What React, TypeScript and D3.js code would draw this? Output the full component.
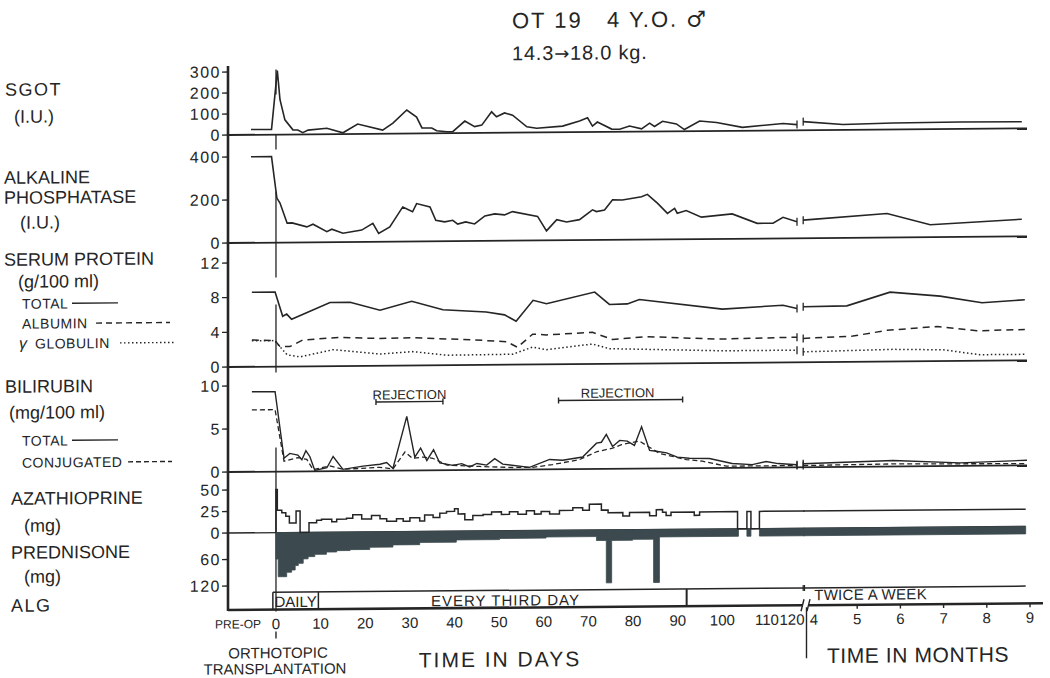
import React from 'react';
import * as d3 from 'd3';

type Pt = [number, number];

const INK = '#252525';
const SHADE = '#3c4a4f';
const FONT = '"Liberation Sans", Arial, Helvetica, sans-serif';

// ---- data: [day, value] (negative day = pre-op), [month, value] after the break
const sgotDays: Pt[] = [[-5.6, 25], [-1.0, 25], [0.3, 305], [0.9, 166], [2.0, 70], [3.8, 22], [4.9, 21], [6.0, 8], [7.2, 20], [11.4, 28], [15.0, 6], [18.3, 47], [23.9, 17], [26.2, 50], [29.3, 112], [31.5, 78], [32.7, 26], [34.9, 25], [36.0, 12], [38.3, 7], [39.6, 7], [42.3, 57], [44.5, 30], [46.1, 37], [48.3, 100], [49.4, 76], [51.2, 94], [53.0, 83], [56.2, 27], [58.4, 20], [64.2, 29], [68.0, 53], [69.8, 68], [70.9, 28], [72.0, 47], [75.2, 13], [77.0, 12], [79.2, 27], [81.9, 13], [83.7, 40], [84.8, 24], [86.6, 48], [89.7, 35], [91.5, 8], [94.9, 48], [98.7, 40], [104.5, 16], [116.4, 33], [122, 27]];
const sgotMonths: Pt[] = [[3.75, 41], [4.67, 26], [5.83, 31], [7.38, 33], [8.81, 32]];

const alkDays: Pt[] = [[-5.6, 400], [-1.0, 400], [0.2, 207], [0.9, 184], [2.5, 90], [3.6, 91], [6.9, 72], [8.3, 84], [11.4, 49], [12.5, 60], [15.0, 41], [19.2, 55], [21.7, 86], [23.0, 39], [25.5, 69], [28.4, 161], [30.6, 138], [31.5, 176], [34.5, 160], [35.8, 98], [37.8, 90], [39.6, 97], [40.7, 79], [42.5, 89], [44.5, 79], [46.8, 116], [49.0, 125], [51.2, 120], [53.0, 135], [58.6, 112], [60.6, 44], [62.9, 96], [65.1, 85], [68.0, 95], [70.9, 140], [71.8, 132], [73.6, 139], [75.4, 186], [77.6, 185], [81.9, 199], [83.2, 210], [85.5, 168], [87.7, 121], [89.3, 144], [89.9, 121], [91.9, 133], [95.3, 102], [102.2, 116], [107.8, 71], [112.4, 71], [116.4, 98], [122, 77]];
const alkMonths: Pt[] = [[3.75, 84], [5.69, 112], [6.69, 58], [8.81, 80]];

const totalProtDays: Pt[] = [[-5.4, 8.6], [-0.2, 8.6], [1.5, 5.8], [2.4, 6.05], [3.5, 5.45], [12.1, 7.35], [16.6, 7.35], [23.3, 6.4], [30.4, 7.4], [37.4, 6.4], [47.1, 6.1], [51.2, 5.75], [53.8, 5.0], [57.6, 7.4], [60.6, 7.0], [71.4, 8.3], [74.7, 6.85], [78.7, 6.9], [81.4, 7.4], [100, 6.2], [116.4, 6.6], [122, 6.2]];
const totalProtMonths: Pt[] = [[3.75, 6.4], [4.76, 6.46], [5.76, 8.0], [6.92, 7.5], [7.89, 6.7], [8.88, 7.0]];

const albuminDays: Pt[] = [[-5.4, 3.1], [-0.2, 3.0], [0.9, 2.3], [3.1, 2.3], [6.0, 3.05], [14.3, 3.3], [23.3, 3.15], [30.6, 3.2], [44.1, 2.9], [51.7, 2.65], [54.1, 2.0], [57.5, 3.5], [60.6, 3.4], [70.9, 3.65], [75.4, 2.8], [83, 3.1], [99.3, 2.75], [122, 2.9]];
const albuminMonths: Pt[] = [[3.75, 2.75], [4.9, 2.97], [5.69, 3.6], [6.85, 4.0], [7.77, 3.46], [8.88, 3.57]];

const globulinDays: Pt[] = [[-5.4, 3.0], [-0.2, 3.0], [0.2, 2.7], [2.5, 1.35], [5.4, 1.1], [12.8, 1.9], [23.3, 1.35], [30.6, 1.6], [38.3, 1.15], [53, 1.2], [57.5, 2.0], [60.6, 1.7], [70.9, 2.3], [74.7, 1.75], [100, 1.4], [122, 1.4]];
const globulinMonths: Pt[] = [[3.75, 1.2], [5.83, 1.4], [6.99, 1.3], [7.84, 0.7], [8.88, 0.7]];

const biliTotalDays: Pt[] = [[-5.4, 9.3], [-0.2, 9.3], [1.8, 1.55], [3.1, 2.1], [4.9, 1.9], [5.8, 1.35], [6.7, 2.4], [7.6, 1.7], [8.7, 0.1], [11.4, 0.4], [12.8, 1.7], [15.0, 0.2], [19.5, 0.55], [23.3, 0.75], [24.8, 0.95], [26.2, 0.25], [29.3, 6.3], [31.1, 1.55], [32.4, 2.6], [33.8, 1.15], [35.3, 2.4], [36.7, 0.85], [39.6, 0.55], [41.6, 0.75], [43.4, 0.35], [45.0, 0.75], [47.2, 0.55], [49.0, 1.3], [50.8, 0.65], [56.8, 0.25], [61.3, 1.15], [64.2, 1.05], [68.7, 1.4], [71.8, 3.0], [72.9, 3.1], [74.0, 4.0], [75.4, 2.6], [77.0, 3.3], [78.7, 3.2], [80.3, 2.7], [81.9, 4.85], [83.7, 2.1], [85.2, 2.0], [87.5, 1.8], [89.9, 1.3], [92.6, 1.15], [97.1, 1.1], [102.2, 0.5], [106.7, 0.35], [109.8, 0.7], [114.4, 0.45], [122, 0.3]];
const biliTotalMonths: Pt[] = [[3.75, 0.4], [5.83, 0.7], [7.38, 0.35], [8.93, 0.6]];

const biliConjDays: Pt[] = [[-5.4, 7.2], [-0.2, 7.2], [1.8, 1.2], [4.9, 1.6], [6.9, 1.4], [8.3, 0.2], [12.1, 0.6], [15.0, 0.2], [23.3, 0.4], [26.2, 0.2], [28.9, 2.15], [30.6, 1.4], [32.9, 1.55], [35.1, 1.4], [38.3, 0.6], [45.6, 0.4], [53.0, 0.25], [57.5, 0.25], [62.0, 0.55], [68.0, 1.1], [71.8, 2.0], [75.4, 2.4], [77.4, 2.8], [81.4, 3.2], [85.9, 1.75], [91.9, 1.0], [95.5, 0.8], [100.9, 0.2], [106.7, 0.2], [122, 0.2]];
const biliConjMonths: Pt[] = [[3.75, 0.2], [5.83, 0.3], [8.93, 0.2]];

// daily doses, step series: [start day, mg]
const azaDays: Pt[] = [[0, 0], [0, 50], [0.3, 26], [1.3, 23], [2.2, 19], [3.0, 11], [4.5, 25], [5.4, 0], [7.4, 11], [9.1, 14], [10.2, 15], [12.5, 12], [13.6, 15], [15.8, 16], [17.2, 20], [19.2, 15], [21.4, 19], [23.3, 15], [24.8, 12], [27, 15], [28.5, 12], [30, 16], [32.2, 12], [33.3, 19], [35.2, 16], [36.7, 21], [38.2, 23], [40, 26], [40.8, 20], [42.3, 13], [44.1, 18], [46.4, 19], [48.3, 22], [50.5, 19], [52.3, 22], [54.2, 19], [56.1, 23], [57.9, 19], [59.4, 22], [61.3, 19], [63.5, 23], [66.5, 26], [68.7, 23], [70.2, 30], [72.9, 23], [74.4, 20], [77.7, 16], [79.2, 20], [83.7, 16], [85.2, 23], [86.6, 20], [87.4, 16], [88.5, 20], [93.7, 16], [94.9, 20], [103.4, 0], [105.5, 20], [106.4, 0], [108.3, 20], [125, 20]];
const azaMonths: Pt[] = [[3.75, 20], [8.9, 20]];

const predDays: Pt[] = [[0, 60], [0.5, 100], [2.4, 90], [3.5, 85], [4.3, 75], [5.0, 70], [6.1, 60], [7.2, 55], [8.7, 50], [11.3, 45], [13.6, 42], [16.6, 40], [21.0, 35], [26.2, 30], [32.2, 25], [40.4, 20], [50.1, 17.5], [60.5, 15], [71.8, 24], [74.0, 120], [75.2, 24], [79.9, 22], [84.6, 120], [85.9, 17], [103.6, 0], [105.5, 17], [106.4, 0], [108.3, 17], [125, 17]];
const predMonths: Pt[] = [[3.75, 17], [8.9, 17]];

const rejectionPeriods: [number, number][] = [[22.4, 37.4], [63.3, 91.1]];
const algDaily: [number, number] = [-0.7, 9.5];
const algEveryThirdDay: [number, number] = [9.5, 92];
const algDaysEnd = 125;
const algTwiceAWeek: [number, number] = [3.75, 8.9];

const sgotTicks = [0, 100, 200, 300];
const alkTicks = [0, 200, 400];
const protTicks = [0, 4, 8, 12];
const biliTicks = [0, 5, 10];
const azaTicks = [0, 25, 50];
const predTicks = [60, 120];
const dayTicks = [0, 10, 20, 30, 40, 50, 60, 70, 80, 90, 100, 110, 120];
const monthTicks = [4, 5, 6, 7, 8, 9];

// ---- scales
const xDay = d3.scaleLinear().domain([-6, 110, 125]).range([249.2, 767, 804.5]);
const xMonth = d3.scaleLinear().domain([4, 9]).range([814, 1030]);
const ySgot = d3.scaleLinear().domain([0, 300]).range([135, 72]);
const yAlk = d3.scaleLinear().domain([0, 400]).range([243, 157]);
const yProt = d3.scaleLinear().domain([0, 12]).range([367, 263]);
const yBili = d3.scaleLinear().domain([0, 10]).range([472, 386]);
const yAza = d3.scaleLinear().domain([0, 50]).range([533, 490]);
const yPred = d3.scaleLinear().domain([0, 120]).range([533, 586]);

const AXIS_X = 228;
const AXIS_Y = 610;
const ALG_TOP = 592.7;
const RIGHT = 1027;
const BREAK_L = 803;
const BREAK_R = 809;

function Series({ days, months, y, dash, w = 1.6 }: { days: Pt[]; months: Pt[]; y: d3.ScaleLinear<number, number>; dash?: string; w?: number }) {
  const lineD = d3.line<Pt>().x(d => xDay(d[0])).y(d => y(d[1]));
  const lineM = d3.line<Pt>().x(d => xMonth(d[0])).y(d => y(d[1]));
  const a = days[days.length - 1];
  const b = months[0];
  const xa = xDay(a[0]), ya = y(a[1]);
  const xb = xMonth(b[0]), yb = y(b[1]);
  return (
    <g fill="none" stroke={INK} strokeWidth={w}>
      <path d={lineD(days) || ''} strokeDasharray={dash} />
      <path d={lineM(months) || ''} strokeDasharray={dash} />
      <line x1={xa} x2={xa} y1={ya - 4} y2={ya + 4} strokeWidth={1.3} />
      <line x1={xb} x2={xb} y1={yb - 4} y2={yb + 4} strokeWidth={1.3} />
    </g>
  );
}

function YTicks({ ticks, y }: { ticks: number[]; y: d3.ScaleLinear<number, number> }) {
  return (
    <g>
      {ticks.map(t => (
        <g key={t}>
          <line x1={AXIS_X - 6} x2={AXIS_X} y1={y(t)} y2={y(t)} stroke={INK} strokeWidth={1.3} />
          <text x={AXIS_X - 7} y={y(t) + 5.5} textAnchor="end" fontSize={16} letterSpacing={1.5}>{t}</text>
        </g>
      ))}
    </g>
  );
}

function Baseline({ y }: { y: number }) {
  return <line x1={AXIS_X} x2={RIGHT} y1={y} y2={y} stroke={INK} strokeWidth={1.8} />;
}

export default function App() {
  const azaLineD = d3.line<Pt>().x(d => xDay(d[0])).y(d => yAza(d[1])).curve(d3.curveStepAfter);
  const azaLineM = d3.line<Pt>().x(d => xMonth(d[0])).y(d => yAza(d[1])).curve(d3.curveStepAfter);
  const predAreaD = d3.area<Pt>().x(d => xDay(d[0])).y0(yPred(0)).y1(d => yPred(d[1])).curve(d3.curveStepAfter);
  const predAreaM = d3.area<Pt>().x(d => xMonth(d[0])).y0(yPred(0)).y1(d => yPred(d[1])).curve(d3.curveStepAfter);
  const rejY = yBili(8);
  const x0 = xDay(0);

  const subLabel = { fontSize: 14, letterSpacing: 0.5 } as const;

  return (
    <svg width={1050} height={678} style={{ position: 'absolute', left: 0, top: 0, background: '#fff' }}
      fontFamily={FONT} fill={INK}>
      {/* the original is a slightly tilted scan */}
      <g transform={`translate(${AXIS_X},0) skewY(-0.475) translate(${-AXIS_X},0)`}>
        {/* title */}
        <text x={512} y={30.5} fontSize={22} letterSpacing={2} style={{ whiteSpace: 'pre' }}>
          OT 19   4 Y.O. <tspan fontFamily='"DejaVu Sans", sans-serif' fontSize={22}>♂</tspan>
        </text>
        <text x={512} y={62.5} fontSize={20} letterSpacing={0.8}>
          14.3<tspan fontFamily='"DejaVu Sans", sans-serif' fontSize={18}>→</tspan>18.0 kg.
        </text>

        {/* left labels */}
        <g fontSize={18}>
          <text x={5} y={94} letterSpacing={1.5}>SGOT</text>
          <text x={14} y={121}>(I.U.)</text>
          <text x={4} y={182}>ALKALINE</text>
          <text x={4} y={202}>PHOSPHATASE</text>
          <text x={20} y={227}>(I.U.)</text>
          <text x={4} y={264}>SERUM PROTEIN</text>
          <text x={18} y={286}>(g/100 ml)</text>
          <text x={5} y={391}>BILIRUBIN</text>
          <text x={9} y={417}>(mg/100 ml)</text>
          <text x={11} y={503}>AZATHIOPRINE</text>
          <text x={24} y={530}>(mg)</text>
          <text x={11} y={557}>PREDNISONE</text>
          <text x={24} y={581}>(mg)</text>
          <text x={11} y={610} letterSpacing={1.5}>ALG</text>
        </g>
        <g {...subLabel}>
          <text x={22} y={307}>TOTAL</text>
          <text x={22} y={327}>ALBUMIN</text>
          <text x={19} y={347} fontSize={16} fontStyle="italic">γ</text>
          <text x={35} y={347}>GLOBULIN</text>
          <text x={22} y={444}>TOTAL</text>
          <text x={22} y={466}>CONJUGATED</text>
        </g>
        <g stroke={INK} strokeWidth={1.4}>
          <line x1={72} x2={118} y1={302} y2={302} />
          <line x1={96} x2={170} y1={322} y2={322} strokeDasharray="6 4" />
          <line x1={120} x2={175} y1={342} y2={342} strokeDasharray="1.5 2.5" />
          <line x1={72} x2={118} y1={439} y2={439} />
          <line x1={128} x2={172} y1={461} y2={461} strokeDasharray="5 3" />
        </g>

        {/* axes and panel baselines */}
        <line x1={AXIS_X} x2={AXIS_X} y1={66} y2={AXIS_Y + 1} stroke={INK} strokeWidth={2.6} />
        <Baseline y={ySgot(0)} />
        <Baseline y={yAlk(0)} />
        <Baseline y={yProt(0)} />
        <Baseline y={yBili(0)} />
        <line x1={AXIS_X} x2={xMonth(8.9)} y1={yAza(0)} y2={yAza(0)} stroke={INK} strokeWidth={1.3} />
        <YTicks ticks={sgotTicks} y={ySgot} />
        <YTicks ticks={alkTicks} y={yAlk} />
        <YTicks ticks={protTicks} y={yProt} />
        <YTicks ticks={biliTicks} y={yBili} />
        <YTicks ticks={azaTicks} y={yAza} />
        <YTicks ticks={predTicks} y={yPred} />

        {/* x axis with break */}
        <g stroke={INK} strokeWidth={2.6}>
          <line x1={AXIS_X} x2={BREAK_L} y1={AXIS_Y} y2={AXIS_Y} />
          <line x1={BREAK_R} x2={1043} y1={AXIS_Y} y2={AXIS_Y} />
        </g>
        <g stroke={INK} strokeWidth={1.4}>
          <line x1={BREAK_L - 2} x2={BREAK_L + 1} y1={AXIS_Y + 6} y2={AXIS_Y - 6} />
          <line x1={BREAK_R - 2} x2={BREAK_R + 1} y1={AXIS_Y + 6} y2={AXIS_Y - 6} />
          <line x1={(BREAK_L + BREAK_R) / 2 + 0.5} x2={(BREAK_L + BREAK_R) / 2 + 0.5} y1={AXIS_Y + 2} y2={663} />
          {monthTicks.slice(1).map(m => (
            <line key={m} x1={xMonth(m)} x2={xMonth(m)} y1={AXIS_Y} y2={AXIS_Y + 4} />
          ))}
          <line x1={x0} x2={x0} y1={632} y2={639} />
        </g>
        <g fontSize={15} textAnchor="middle">
          {dayTicks.map(d => (
            <text key={d} x={xDay(d)} y={629.5}>{d}</text>
          ))}
          {monthTicks.map(m => (
            <text key={m} x={xMonth(m)} y={629.5}>{m}</text>
          ))}
          <text x={238} y={628.5} fontSize={12}>PRE-OP</text>
          <text x={278} y={658.5}>ORTHOTOPIC</text>
          <text x={275} y={674.5}>TRANSPLANTATION</text>
          <text x={500} y={669} fontSize={21} letterSpacing={2}>TIME IN DAYS</text>
          <text x={918} y={668} fontSize={21} letterSpacing={0.6}>TIME IN MONTHS</text>
        </g>

        {/* transplant marker */}
        <line x1={x0} x2={x0} y1={70} y2={AXIS_Y + 2} stroke={INK} strokeWidth={1.3}
          strokeDasharray="25 40 15 42 86 27 68 75 164" />

        {/* lab series */}
        <Series days={sgotDays} months={sgotMonths} y={ySgot} />
        <Series days={alkDays} months={alkMonths} y={yAlk} />
        <Series days={totalProtDays} months={totalProtMonths} y={yProt} />
        <Series days={albuminDays} months={albuminMonths} y={yProt} dash="7 5" w={1.5} />
        <Series days={globulinDays} months={globulinMonths} y={yProt} dash="1.5 2.5" w={1.5} />
        <Series days={biliTotalDays} months={biliTotalMonths} y={yBili} w={1.4} />
        <Series days={biliConjDays} months={biliConjMonths} y={yBili} dash="5 3" w={1.3} />

        {/* rejection episodes */}
        {rejectionPeriods.map(([a, b], i) => (
          <g key={i}>
            <line x1={xDay(a)} x2={xDay(b)} y1={rejY} y2={rejY} stroke={INK} strokeWidth={1.4} />
            <line x1={xDay(a)} x2={xDay(a)} y1={rejY - 3} y2={rejY + 3} stroke={INK} strokeWidth={1.4} />
            <line x1={xDay(b)} x2={xDay(b)} y1={rejY - 3} y2={rejY + 3} stroke={INK} strokeWidth={1.4} />
            <text x={(xDay(a) + xDay(b)) / 2 - (i ? 3 : 0)} y={rejY - 2.5} fontSize={13} textAnchor="middle">REJECTION</text>
          </g>
        ))}

        {/* drugs */}
        <path d={predAreaD(predDays) || ''} fill={SHADE} stroke={SHADE} strokeWidth={0.8} />
        <path d={predAreaM(predMonths) || ''} fill={SHADE} stroke={SHADE} strokeWidth={0.8} />
        <path d={azaLineD(azaDays) || ''} fill="none" stroke={INK} strokeWidth={1.5} />
        <path d={azaLineM(azaMonths) || ''} fill="none" stroke={INK} strokeWidth={1.5} />

        {/* ALG schedule */}
        <g stroke={INK} strokeWidth={1.5} fill="none">
          <line x1={xDay(algDaily[0])} x2={xDay(algDaysEnd)} y1={ALG_TOP} y2={ALG_TOP} />
          <line x1={xDay(algDaily[0])} x2={xDay(algDaily[0])} y1={ALG_TOP} y2={AXIS_Y} />
          <line x1={xDay(algDaily[1])} x2={xDay(algDaily[1])} y1={ALG_TOP} y2={AXIS_Y} />
          <line x1={xDay(algEveryThirdDay[1])} x2={xDay(algEveryThirdDay[1])} y1={ALG_TOP} y2={AXIS_Y} strokeWidth={2} />
          <line x1={xMonth(algTwiceAWeek[0])} x2={xMonth(algTwiceAWeek[1])} y1={ALG_TOP} y2={ALG_TOP} />
          <line x1={xDay(algDaysEnd)} x2={xDay(algDaysEnd)} y1={ALG_TOP - 3} y2={ALG_TOP + 3} strokeWidth={1.2} />
          <line x1={xMonth(algTwiceAWeek[0])} x2={xMonth(algTwiceAWeek[0])} y1={ALG_TOP - 3} y2={ALG_TOP + 3} strokeWidth={1.2} />
        </g>
        <g fontSize={15}>
          <text x={(xDay(algDaily[0]) + xDay(algDaily[1])) / 2} y={607.5} textAnchor="middle">DAILY</text>
          <text x={(xDay(algEveryThirdDay[0]) + xDay(algEveryThirdDay[1])) / 2 + 3} y={608} textAnchor="middle" letterSpacing={1}>EVERY THIRD DAY</text>
          <text x={xMonth(algTwiceAWeek[0]) + 11} y={605} letterSpacing={0.3}>TWICE A WEEK</text>
        </g>
      </g>
    </svg>
  );
}
